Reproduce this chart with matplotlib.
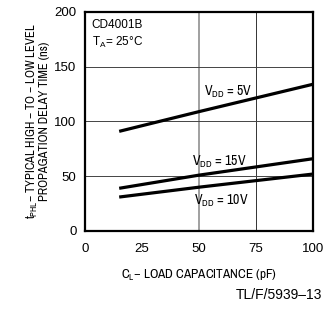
import matplotlib
matplotlib.use("Agg")
import matplotlib.pyplot as plt

plt.rcParams['font.family'] = ['Liberation Sans', 'DejaVu Sans']
narrow = ['Archivo Narrow', 'Liberation Sans', 'DejaVu Sans']

cl = [15, 50, 100]
vdd5 = [91, 109, 134]
vdd10 = [31, 40, 52]
vdd15 = [39, 51, 66]

xticks = [0, 25, 50, 75, 100]
yticks = [0, 50, 100, 150, 200]

fig = plt.figure(figsize=(3.25, 3.13), dpi=100)
ax = fig.add_axes([0.2615, 0.262, 0.7015, 0.6997])

# grid lines like the datasheet
ax.axvline(50, color='#999999', lw=1.3, zorder=1)
ax.axvline(75, color='#333333', lw=0.7, zorder=1)
for yv in [50, 100, 150]:
    ax.axhline(yv, color='#444444', lw=0.7, zorder=1)

for ys in (vdd5, vdd10, vdd15):
    ax.plot(cl, ys, color='black', lw=2.3, solid_capstyle='butt', zorder=3)

ax.set_xlim(0, 100)
ax.set_ylim(0, 200)
ax.set_xticks(xticks)
ax.set_yticks(yticks)
ax.tick_params(length=0, labelsize=9.5, pad=9)
ax.tick_params(axis='y', pad=6)
for s in ax.spines.values():
    s.set_linewidth(1.6)

ax.text(3, 194, 'CD4001B', fontsize=8.5, va='top')
ax.text(3, 179, '$\\mathregular{T_A}$= 25°C', fontsize=8.5, va='top')
ax.text(52, 124, '$\\mathregular{V_{DD}}$ = 5V', fontsize=10, family=narrow)
ax.text(47, 60, '$\\mathregular{V_{DD}}$ = 15V', fontsize=10, family=narrow)
ax.text(48, 24, '$\\mathregular{V_{DD}}$ = 10V', fontsize=10, family=narrow)

ax.set_xlabel('$\\mathregular{C_L}$– LOAD CAPACITANCE (pF)', fontsize=9.5, labelpad=9, family=narrow)
ax.set_ylabel('$\\mathregular{t_{PHL}}$– TYPICAL HIGH – TO – LOW LEVEL\nPROPAGATION DELAY TIME (ns)',
              fontsize=9, labelpad=3, linespacing=0.95, family=narrow)

fig.text(0.726, 0.045, 'TL/F/5939–13', fontsize=10, ha='left')

fig.savefig('out.png', dpi=100)
